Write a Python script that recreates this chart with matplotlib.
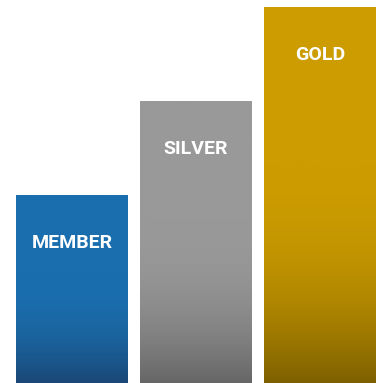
import matplotlib
matplotlib.use("Agg")
import matplotlib.pyplot as plt
import numpy as np
from matplotlib.colors import to_rgb

labels = ["MEMBER", "SILVER", "GOLD"]
values = [1.0, 1.5, 2.0]
top_colors = ["#1a6eae", "#999999", "#cc9c00"]
bottom_colors = ["#1b4775", "#666666", "#7d6000"]

fig = plt.figure(figsize=(3.77, 3.83), dpi=100)
ax = fig.add_axes([0, 0, 1, 1])

width = 112 / 124
bars = ax.bar(range(len(values)), values, width=width, color="none", edgecolor="none")

for i, bar in enumerate(bars):
    x0 = bar.get_x()
    h = bar.get_height()
    # flat colour on the upper part, then ease into the darker shade at the base
    t = np.linspace(0, 1, 256)
    f = (np.clip((t - 0.42) / 0.58, 0, 1) ** 2.2)[:, None]
    top = np.array(to_rgb(top_colors[i]))
    bot = np.array(to_rgb(bottom_colors[i]))
    grad = top * (1 - f) + bot * f
    img = ax.imshow(grad[:, None, :], extent=[x0, x0 + width, 0, h],
                    aspect="auto", origin="upper", interpolation="bilinear")
    img.set_clip_path(bar)
    ax.text(i, h - 48 / 188, labels[i], ha="center", va="center",
            color="white", fontsize=14, fontweight="bold", family="Roboto")

ax.set_xlim(-72 / 124, (377 - 72) / 124)
ax.set_ylim(0, 383 / 188)
ax.axis("off")

fig.savefig("out.png", dpi=100)
